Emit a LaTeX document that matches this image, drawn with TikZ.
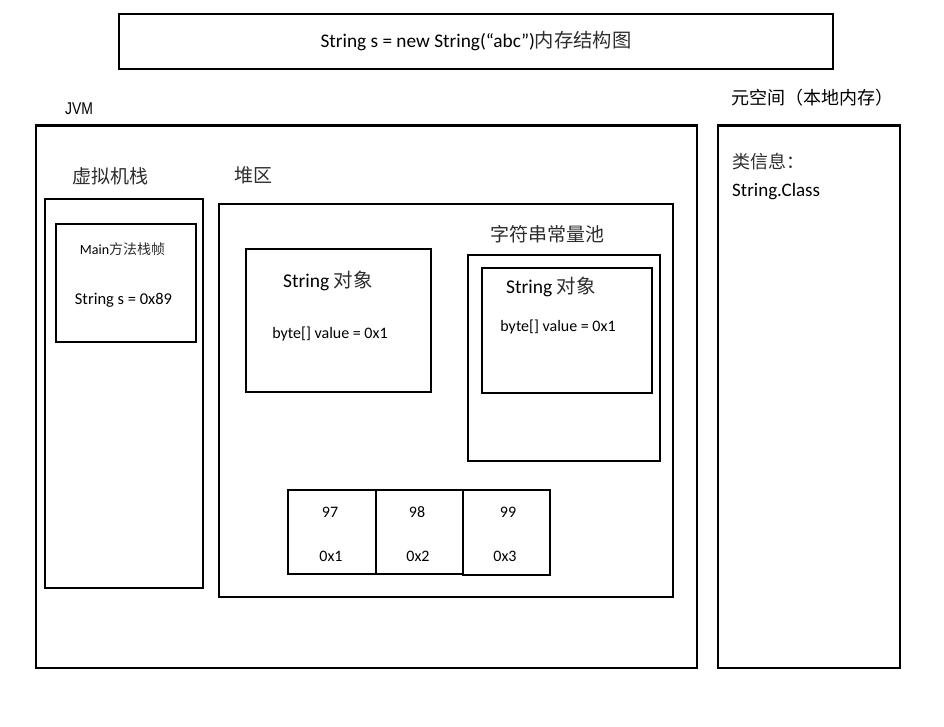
\documentclass[tikz,border=0pt]{standalone}
\usepackage{graphicx}
\usepackage{fontspec}
\setmainfont{Carlito}
\newfontfamily\cjk{Noto Sans CJK SC}
\newfontfamily\arialf{Liberation Sans}
\definecolor{cjkgray}{RGB}{45,45,45}
\newcommand{\zh}[1]{{\cjk\color{cjkgray}#1}}
\newcommand{\fs}[1]{\fontsize{#1}{#1}\selectfont}
\begin{document}
\begin{tikzpicture}[x=1pt,y=-1pt,
  box/.style={draw,line width=2.2pt,inner sep=0pt,anchor=north west},
  lbl/.style={inner sep=0pt,anchor=center}]
\useasboundingbox (0,0) rectangle (944,727);
% boxes
\node[box,minimum width=714pt,minimum height=55pt] (title) at (118,13) {};
\node[box,minimum width=661pt,minimum height=542pt] (jvm) at (35,124.5) {};
\node[box,minimum width=182pt,minimum height=542pt] (meta) at (717,124.5) {};
\node[box,minimum width=158pt,minimum height=389pt] (stack) at (44,198) {};
\node[box,minimum width=140pt,minimum height=118pt] (frame) at (55,223) {};
\node[box,minimum width=454pt,minimum height=393pt] (heap) at (218,203) {};
\node[box,minimum width=185pt,minimum height=143pt] (strobj) at (245,248) {};
\node[box,minimum width=192pt,minimum height=206pt] (pool) at (467,254) {};
\node[box,minimum width=170pt,minimum height=125pt] (poolobj) at (481,267) {};
\node[box,minimum width=88pt,minimum height=84pt] (c1) at (287,489) {};
\node[box,minimum width=87pt,minimum height=84pt] (c2) at (375,489) {};
\node[box,minimum width=87pt,minimum height=85pt] (c3) at (462,489) {};
% texts
\node[lbl] (titletext) at (476,41) {\fs{19.3}String s = new String(“abc”)\zh{内存结构图}};
\node[lbl] (jvmlbl) at (79,109) {\scalebox{0.82}[1]{\arialf\fs{17}JVM}};
\node[lbl,anchor=west] (metalbl) at (731,97.5) {\cjk\fs{18}元空间（本地内存）};
\node[lbl,anchor=west] (clsinfo) at (732,162) {\fs{18}\zh{类信息：}};
\node[lbl,anchor=west] (strclass) at (732,192) {\fs{19}String.Class};
\node[lbl] (stacklbl) at (110,176) {\fs{19}\zh{虚拟机栈}};
\node[lbl] (heaplbl) at (253,175) {\fs{19}\zh{堆区}};
\node[lbl] (mainlbl) at (122.5,249) {\fs{14}Main\zh{方法栈帧}};
\node[lbl] (svar) at (123.5,300) {\fs{16.5}String s = 0x89};
\node[lbl] (strobjlbl) at (328,281) {\fs{19.5}String \zh{对象}};
\node[lbl] (strval) at (330,334) {\fs{16}byte[] value = 0x1};
\node[lbl] (poollbl) at (547,234) {\fs{19}\zh{字符串常量池}};
\node[lbl] (poolobjlbl) at (551,287) {\fs{19.5}String \zh{对象}};
\node[lbl] (poolval) at (558,327) {\fs{16}byte[] value = 0x1};
\node[lbl] (v1) at (330,512) {\fs{16}97};
\node[lbl] (a1) at (331,556) {\fs{16}0x1};
\node[lbl] (v2) at (417,512) {\fs{16}98};
\node[lbl] (a2) at (418,556) {\fs{16}0x2};
\node[lbl] (v3) at (508,512) {\fs{16}99};
\node[lbl] (a3) at (505,556) {\fs{16}0x3};
\end{tikzpicture}
\end{document}
